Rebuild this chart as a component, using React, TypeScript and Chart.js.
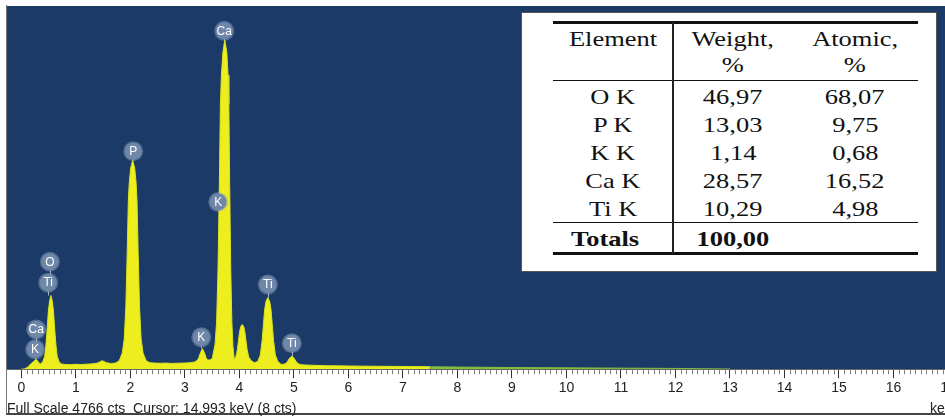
import React, { useEffect, useRef } from "react";
import { Chart, registerables } from "chart.js";

Chart.register(...registerables);

// ---------- data ----------
const energyKeV = [
  0.0, 0.06, 0.12, 0.17, 0.22, 0.27, 0.32, 0.345, 0.39, 0.425, 0.448, 0.471, 0.494, 0.517, 0.54, 0.563, 0.586, 0.609, 0.632, 0.655,
  0.69, 0.735, 0.8, 0.9, 1.0, 1.1, 1.2, 1.3, 1.4, 1.48, 1.56, 1.65, 1.72, 1.79, 1.85, 1.885, 1.915, 1.94, 1.96, 1.9775,
  2.0025, 2.04, 2.0775, 2.1025, 2.12, 2.14, 2.165, 2.195, 2.23, 2.29, 2.36, 2.45, 2.55, 2.65, 2.75, 2.85, 2.95, 3.03, 3.1, 3.18,
  3.22, 3.25, 3.27, 3.295, 3.32, 3.345, 3.37, 3.39, 3.42, 3.46, 3.5, 3.55, 3.58, 3.605, 3.63, 3.65, 3.668, 3.695, 3.73, 3.7675,
  3.79, 3.805, 3.82, 3.84, 3.86, 3.88, 3.905, 3.94, 3.96, 3.98, 4.0, 4.02, 4.05, 4.08, 4.1, 4.12, 4.14, 4.17, 4.21, 4.27,
  4.336, 4.382, 4.416, 4.44, 4.462, 4.485, 4.52, 4.555, 4.578, 4.6, 4.624, 4.658, 4.704, 4.76, 4.8, 4.85, 4.88, 4.91, 4.935, 4.96,
  4.985, 5.01, 5.04, 5.07, 5.12, 5.2, 5.4, 5.6, 5.8, 6.0, 6.3, 6.6, 7.0, 7.5, 8.0, 8.5, 9.0, 9.5, 10.0, 10.5,
  11.0, 11.5, 12.0, 12.5, 13.0, 14.0, 15.0, 16.0, 17.3,
];
const counts = [
  0, 5, 30, 70, 100, 130, 85, 69, 96, 169, 314, 531, 767, 903, 966, 903, 767, 531, 314, 169,
  96, 69, 62, 60, 64, 62, 66, 70, 82, 112, 85, 74, 80, 107, 213, 399, 825, 1544, 2210, 2449,
  2636, 2742, 2636, 2449, 2210, 1544, 825, 399, 213, 107, 85, 80, 78, 80, 76, 78, 80, 82, 86, 95,
  113, 144, 189, 234, 270, 234, 189, 144, 120, 122, 140, 321, 615, 1289, 2427, 3480, 3859, 4154, 4322, 4154,
  3859, 3480, 2427, 1289, 615, 300, 120, 180, 256, 368, 481, 554, 588, 554, 481, 368, 256, 159, 115, 85,
  101, 187, 378, 594, 784, 888, 940, 888, 784, 594, 378, 187, 101, 65, 63, 75, 100, 135, 158, 170,
  158, 135, 100, 75, 60, 55, 50, 46, 44, 42, 40, 38, 36, 32, 28, 25, 22, 20, 18, 16,
  14, 12, 10, 6, 3, 2, 1, 1, 0,
];
const xTickValues = [0, 1, 2, 3, 4, 5, 6, 7, 8, 9, 10, 11, 12, 13, 14, 15, 16, 17];
const fullScaleCounts = 4766;

const markerLabels = ["Ca", "P", "K", "O", "Ti", "Ca", "K", "K", "Ti", "Ti"];
const markerEnergy = [3.72, 2.05, 3.61, 0.52, 0.49, 0.27, 0.25, 3.3, 4.52, 4.96];
const markerCounts = [4440, 2860, 2194, 1410, 1136, 522, 261, 418, 1110, 340];
const markerLineEnd = [4322, 2742, 2194, 1136, 966, 261, 130, 270, 940, 170];

const tableHeader1 = ["Element", "Weight,", "Atomic,"];
const tableHeader2 = ["", "%", "%"];
const tableElements = ["O K", "P K", "K K", "Ca K", "Ti K"];
const tableWeight = ["46,97", "13,03", "1,14", "28,57", "10,29"];
const tableAtomic = ["68,07", "9,75", "0,68", "16,52", "4,98"];
const totalsLabel = "Totals";
const totalWeight = "100,00";

const statusText = "Full Scale 4766 cts  Cursor: 14.993 keV (8 cts)";
const axisUnit = "keV";

// ---------- plugins ----------
const plotBg = {
  id: "plotBg",
  beforeDraw(chart: any) {
    const { ctx, chartArea: a } = chart;
    ctx.save();
    ctx.fillStyle = "#1c3a68";
    ctx.fillRect(a.left, a.top, a.right - a.left, a.bottom - a.top);
    ctx.restore();
  },
};

const minorTicks = {
  id: "minorTicks",
  afterDraw(chart: any) {
    const { ctx, chartArea } = chart;
    const xs = chart.scales.x;
    const b = chartArea.bottom;
    ctx.save();
    ctx.strokeStyle = "#7a7a7a";
    ctx.lineWidth = 1;
    ctx.beginPath();
    for (let i = 1; i <= 173; i++) {
      if (i % 10 === 0) continue;
      const px = Math.round(xs.getPixelForValue(i / 10)) + 0.5;
      ctx.moveTo(px, b + 1);
      ctx.lineTo(px, b + 5);
    }
    ctx.stroke();
    ctx.restore();
  },
};

const markers = {
  id: "markers",
  afterDatasetsDraw(chart: any) {
    const { ctx } = chart;
    const xs = chart.scales.x;
    const ys = chart.scales.y;
    ctx.save();
    ctx.strokeStyle = "#9db0cc";
    ctx.lineWidth = 1;
    ctx.beginPath();
    markerLabels.forEach((_, i) => {
      const px = Math.round(xs.getPixelForValue(markerEnergy[i])) + 0.5;
      const y0 = ys.getPixelForValue(markerCounts[i]);
      const y1 = ys.getPixelForValue(markerLineEnd[i]);
      if (y1 > y0) {
        ctx.moveTo(px, y0);
        ctx.lineTo(px, y1);
      }
    });
    ctx.stroke();
    markerLabels.forEach((lab, i) => {
      const px = xs.getPixelForValue(markerEnergy[i]);
      const py = ys.getPixelForValue(markerCounts[i]);
      ctx.beginPath();
      ctx.arc(px, py, 10, 0, Math.PI * 2);
      ctx.fillStyle = "rgba(150,168,195,0.45)";
      ctx.fill();
      ctx.beginPath();
      ctx.arc(px, py, 8.5, 0, Math.PI * 2);
      ctx.fillStyle = "#6f87a8";
      ctx.fill();
      ctx.fillStyle = "#ffffff";
      ctx.font = "12px 'Liberation Sans', Arial, sans-serif";
      ctx.textAlign = "center";
      ctx.textBaseline = "middle";
      ctx.fillText(lab, px, py + 0.5);
    });
    ctx.restore();
  },
};

// ---------- components ----------
const serif = "'Liberation Serif', 'Times New Roman', serif";

function Cell(props: { x: number; y: number; text: string; bold?: boolean }) {
  return (
    <div
      style={{
        position: "absolute",
        left: props.x - 150,
        top: props.y - 12,
        width: 300,
        height: 24,
        lineHeight: "24px",
        textAlign: "center",
        whiteSpace: "nowrap",
        fontFamily: serif,
        fontSize: 21,
        fontWeight: props.bold ? "bold" : "normal",
        color: "#111",
      }}
    >
      <span style={{ display: "inline-block", transform: "scaleX(1.26)" }}>{props.text}</span>
    </div>
  );
}

function HLine(props: { y: number; h: number }) {
  return (
    <div style={{ position: "absolute", left: 553, top: props.y, width: 365, height: props.h, background: "#111" }} />
  );
}

export default function App() {
  const canvasRef = useRef<HTMLCanvasElement | null>(null);

  useEffect(() => {
    const canvas = canvasRef.current;
    if (!canvas) return;
    const chart = new Chart(canvas, {
      type: "line",
      data: {
        datasets: [
          {
            data: energyKeV.map((x, i) => ({ x, y: counts[i] })),
            borderColor: "#d9e41c",
            borderWidth: 1,
            backgroundColor: "#eeee1e",
            fill: "origin",
            pointRadius: 0,
            tension: 0,
            segment: {
              borderColor: (c: any) =>
                c.p0.parsed.x >= 12.8 ? "rgba(0,0,0,0)" : c.p0.parsed.x >= 7.4 ? "#7fc03e" : undefined,
              backgroundColor: (c: any) => (c.p0.parsed.x >= 7.4 ? "#7fc03e" : undefined),
            },
          } as any,
        ],
      },
      options: {
        animation: false,
        responsive: false,
        layout: { padding: { left: 7, top: 6, right: 0, bottom: 19 } },
        plugins: { legend: { display: false }, tooltip: { enabled: false } },
        scales: {
          x: {
            type: "linear",
            min: -0.266,
            max: 17.312,
            afterBuildTicks: (axis: any) => {
              axis.ticks = xTickValues.map((v) => ({ value: v }));
            },
            grid: {
              drawOnChartArea: false,
              drawTicks: true,
              tickLength: 9,
              tickColor: "#333",
              tickWidth: 1,
            },
            border: { display: true, color: "#666", width: 1 },
            ticks: {
              font: { family: "'Liberation Sans', Arial, sans-serif", size: 14 },
              color: "#222",
              padding: 2,
              autoSkip: false,
              maxRotation: 0,
              callback: (v: any) => String(v),
            },
          },
          y: { display: false, min: 0, max: fullScaleCounts },
        },
      } as any,
      plugins: [plotBg, minorTicks, markers],
    });
    return () => chart.destroy();
  }, []);

  const colX = [613, 733, 855];
  const rowY = [97, 125, 153, 181, 208.5];

  return (
    <div
      style={{
        position: "absolute",
        left: 0,
        top: 0,
        width: 945,
        height: 418,
        overflow: "hidden",
        background: "#fff",
      }}
    >
      <canvas ref={canvasRef} width={965} height={418} style={{ position: "absolute", left: 0, top: 0, display: "block" }} />
      <div
        style={{
          position: "absolute",
          left: 6,
          top: 5,
          width: 1000,
          height: 408,
          borderLeft: "1px solid #777",
          borderBottom: "2px solid #444",
          pointerEvents: "none",
        }}
      />
      {/* results table */}
      <div
        style={{
          position: "absolute",
          left: 521,
          top: 12,
          width: 414,
          height: 258,
          background: "#fff",
          border: "1px solid #555",
        }}
      />
      <HLine y={21} h={3} />
      <HLine y={80} h={1} />
      <HLine y={222} h={1} />
      <HLine y={252} h={3} />
      <div style={{ position: "absolute", left: 672, top: 22, width: 2, height: 232, background: "#222" }} />
      {tableHeader1.map((t, i) => (
        <Cell key={"h1" + i} x={colX[i]} y={39} text={t} />
      ))}
      {tableHeader2.map((t, i) => (
        <Cell key={"h2" + i} x={colX[i]} y={65} text={t} />
      ))}
      {tableElements.map((t, i) => (
        <React.Fragment key={"r" + i}>
          <Cell x={colX[0]} y={rowY[i]} text={t} />
          <Cell x={colX[1]} y={rowY[i]} text={tableWeight[i]} />
          <Cell x={colX[2]} y={rowY[i]} text={tableAtomic[i]} />
        </React.Fragment>
      ))}
      <Cell x={605} y={238.5} text={totalsLabel} bold />
      <Cell x={733} y={238.5} text={totalWeight} bold />
      {/* status line */}
      <div
        style={{
          position: "absolute",
          left: 7,
          top: 400,
          height: 16,
          lineHeight: "16px",
          fontFamily: "'Liberation Sans', Arial, sans-serif",
          fontSize: 14,
          color: "#222",
          whiteSpace: "pre",
        }}
      >
        {statusText}
      </div>
      <div
        style={{
          position: "absolute",
          left: 930,
          top: 400,
          height: 16,
          lineHeight: "16px",
          fontFamily: "'Liberation Sans', Arial, sans-serif",
          fontSize: 14,
          color: "#222",
          whiteSpace: "pre",
        }}
      >
        {axisUnit}
      </div>
    </div>
  );
}
